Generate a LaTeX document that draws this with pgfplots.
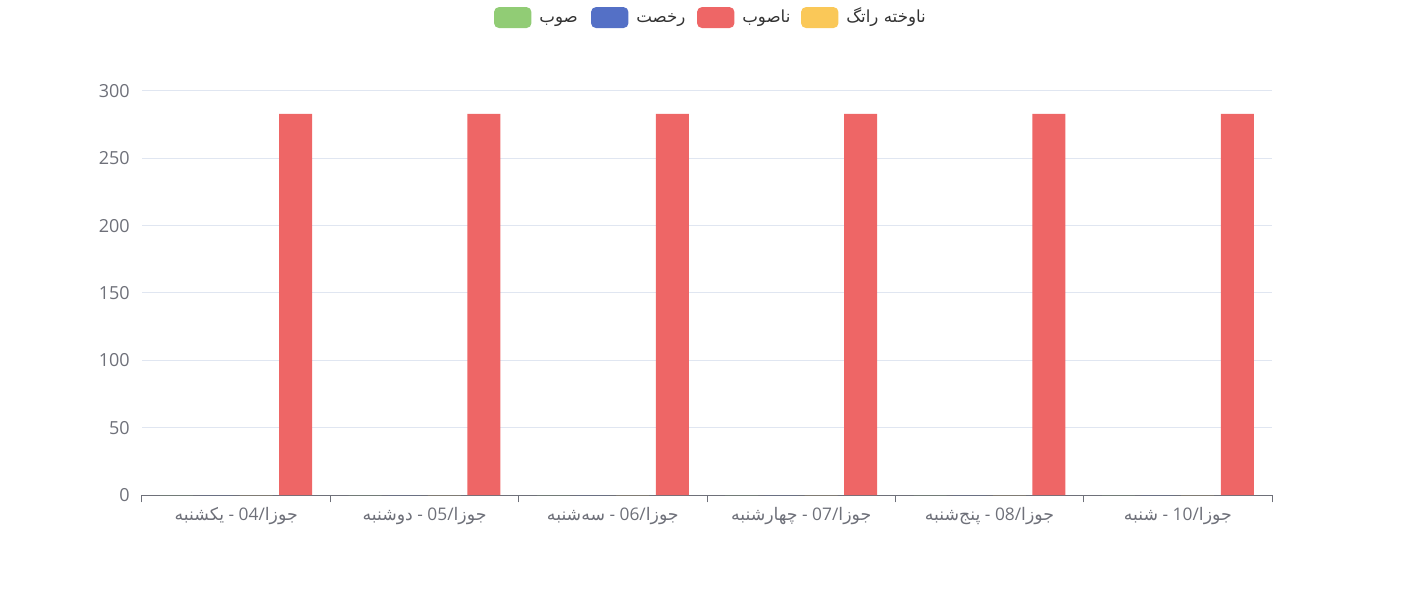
\documentclass[border=0pt]{standalone}
\usepackage{fontspec}
\usepackage{pgfplots}
\pgfplotsset{compat=1.18}
\setmainfont{Open Sans}
\newfontfamily\arabicfont[Script=Arabic]{DejaVu Sans}
\TeXXeTstate=1
\definecolor{cgreen}{HTML}{91CC75}
\definecolor{cblue}{HTML}{5470C6}
\definecolor{cred}{HTML}{EE6666}
\definecolor{cyellow}{HTML}{FAC858}
\definecolor{labelc}{HTML}{6E7079}
\definecolor{gridc}{HTML}{E0E6F1}
\definecolor{legc}{HTML}{333333}
\newcommand{\xl}[2]{\beginR{\arabicfont جوزا}/\beginL #1\endL{} - {\arabicfont #2}\endR}
\begin{document}
\begin{tikzpicture}
\begin{axis}[
  at={(0,0)}, anchor=south west,
  scale only axis, width=847.5pt, height=303pt,
  xmin=-0.5, xmax=5.5, ymin=0, ymax=300,
  ytick={0,50,...,300},
  xtick={0,...,5},
  xticklabels={\xl{04}{یکشنبه},\xl{05}{دوشنبه},\xl{06}{سه‌شنبه},\xl{07}{چهارشنبه},\xl{08}{پنج‌شنبه},\xl{10}{شنبه}},
  minor xtick={-0.5,0.5,...,5.5},
  major tick length=0pt,
  minor tick length=5.6pt,
  tick align=outside,
  major tick style={draw=none},
  minor x tick style={draw=labelc, line width=0.75pt},
  axis x line*=bottom, axis y line*=left,
  x axis line style={draw=labelc, line width=0.75pt, -},
  y axis line style={draw=none},
  ymajorgrids, grid style={draw=gridc, line width=0.75pt},
  /pgf/number format/assume math mode=true,
  yticklabel style={font=\fontsize{13.5}{16}\selectfont, text=labelc, inner sep=0pt, xshift=-9pt},
  xticklabel style={font=\fontsize{13}{16}\selectfont, text=labelc, inner sep=0pt, anchor=north, yshift=-9pt},
  clip=false,
]
\addplot[ybar, bar width=24.75pt, bar shift=-44.6pt, fill=cgreen, draw=none] coordinates {(0,0) (1,0) (2,0) (3,0) (4,0) (5,0)};
\addplot[ybar, bar width=24.75pt, bar shift=-14.9pt, fill=cblue, draw=none] coordinates {(0,0) (1,0) (2,0) (3,0) (4,0) (5,0)};
\addplot[ybar, bar width=24.75pt, bar shift=14.9pt, fill=cyellow, draw=none] coordinates {(0,0) (1,0) (2,0) (3,0) (4,0) (5,0)};
\addplot[ybar, bar width=24.75pt, bar shift=44.6pt, fill=cred, draw=none] coordinates {(0,283) (1,283) (2,283) (3,283) (4,283) (5,283)};
\end{axis}
% legend
\begin{scope}[every node/.style={font=\fontsize{12.5}{15}\selectfont, text=legc, inner sep=0pt, anchor=base west}]
\fill[cgreen, rounded corners=3.75pt] (264pt,350.2pt) rectangle ++(28.1pt,15.75pt);
\node at (297.8pt,354pt) {\arabicfont\beginR صوب\endR};
\fill[cblue, rounded corners=3.75pt] (336.75pt,350.2pt) rectangle ++(28.1pt,15.75pt);
\node at (370.5pt,354pt) {\arabicfont\beginR رخصت\endR};
\fill[cred, rounded corners=3.75pt] (416.25pt,350.2pt) rectangle ++(28.1pt,15.75pt);
\node at (450pt,354pt) {\arabicfont\beginR ناصوب\endR};
\fill[cyellow, rounded corners=3.75pt] (494.25pt,350.2pt) rectangle ++(28.1pt,15.75pt);
\node at (528pt,354pt) {\arabicfont\beginR ناوخته راتگ\endR};
\end{scope}
\pgfresetboundingbox
\path[use as bounding box] (-106.5pt,-78.75pt) rectangle (954pt,371.25pt);
\end{tikzpicture}
\end{document}
